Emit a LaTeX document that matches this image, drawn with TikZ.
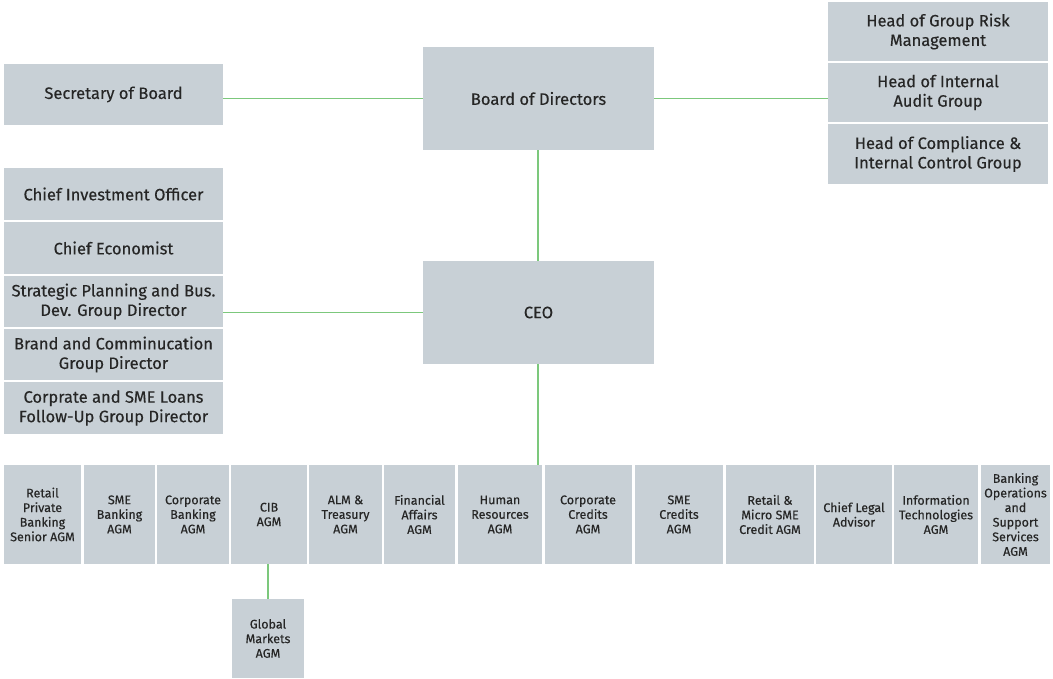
\documentclass[tikz,border=0pt]{standalone}
\usepackage{fontspec}
\setmainfont{Fira Sans}[FakeBold=0.35]
\definecolor{boxfill}{HTML}{C8D0D6}
\definecolor{linkgreen}{HTML}{7CC87C}
\definecolor{txt}{HTML}{262626}
\begin{document}
\begin{tikzpicture}[x=1pt,y=-1pt,
  box/.style={fill=boxfill, draw=none, inner sep=0pt, align=center, text=txt,
    font=\fontsize{16.5}{19.5}\selectfont},
  small/.style={box, font=\fontsize{12.5}{14.6}\selectfont},
  link/.style={draw=linkgreen, line width=1.3pt}]
\useasboundingbox (0,0) rectangle (1053,678);
% top level
\node[box, minimum width=219pt, minimum height=61pt] (sec) at (113.5,94.5) {Secretary of Board};
\node[box, minimum width=231pt, minimum height=103pt] (board) at (538.5,98.5) {Board of Directors};
\node[box, minimum width=220pt, minimum height=59pt] (risk) at (938,31.5) {Head of Group Risk\\Management};
\node[box, minimum width=220pt, minimum height=59pt] (audit) at (938,92.5) {Head of Internal\\Audit Group};
\node[box, minimum width=220pt, minimum height=60pt] (comp) at (938,154) {Head of Compliance \&\\Internal Control Group};
% CEO level
\node[box, minimum width=219pt, minimum height=52pt] (cio) at (113.5,194) {Chief Investment Officer};
\node[box, minimum width=219pt, minimum height=52pt] (econ) at (113.5,248) {Chief Economist};
\node[box, minimum width=219pt, minimum height=51pt] (strat) at (113.5,301.5) {Strategic Planning and Bus.\\Dev. Group Director};
\node[box, minimum width=219pt, minimum height=51pt] (brand) at (113.5,354.5) {Brand and Comminucation\\Group Director};
\node[box, minimum width=219pt, minimum height=52pt] (loans) at (113.5,408) {Corprate and SME Loans\\Follow-Up Group Director};
\node[box, minimum width=231pt, minimum height=103pt] (ceo) at (538.5,312.5) {CEO};
% bottom row
\node[small, minimum width=77pt, minimum height=99pt] (b1) at (42.5,514.5) {Retail\\Private\\Banking\\Senior AGM};
\node[small, minimum width=71pt, minimum height=99pt] (b2) at (119.5,514.5) {SME\\Banking\\AGM};
\node[small, minimum width=72pt, minimum height=99pt] (b3) at (193,514.5) {Corporate\\Banking\\AGM};
\node[small, minimum width=76pt, minimum height=99pt] (b4) at (269,514.5) {CIB\\AGM};
\node[small, minimum width=73pt, minimum height=99pt] (b5) at (345.5,514.5) {ALM \&\\Treasury\\AGM};
\node[small, minimum width=71pt, minimum height=99pt] (b6) at (419.5,514.5) {Financial\\Affairs\\AGM};
\node[small, minimum width=84pt, minimum height=99pt] (b7) at (500,514.5) {Human\\Resources\\AGM};
\node[small, minimum width=87pt, minimum height=99pt] (b8) at (588,514.5) {Corporate\\Credits\\AGM};
\node[small, minimum width=88pt, minimum height=99pt] (b9) at (679,514.5) {SME\\Credits\\AGM};
\node[small, minimum width=88pt, minimum height=99pt] (b10) at (770,514.5) {Retail \&\\Micro SME\\Credit AGM};
\node[small, minimum width=76pt, minimum height=99pt] (b11) at (854,514.5) {Chief Legal\\Advisor};
\node[small, minimum width=84pt, minimum height=99pt] (b12) at (936,514.5) {Information\\Technologies\\AGM};
\node[small, minimum width=69pt, minimum height=99pt] (b13) at (1015.5,514.5) {Banking\\Operations\\and\\Support\\Services\\AGM};
\node[small, minimum width=72pt, minimum height=79pt] (gm) at (268,638.5) {Global\\Markets\\AGM};
% connectors
\coordinate (ceofoot) at (538,465);
\draw[link] (board.west) -- (sec.east |- board.west);
\draw[link] (board.east) -- (audit.west |- board.east);
\draw[link] (board.south -| 538,0) -- (ceo.north -| 538,0);
\draw[link] (ceo.west) -- (strat.east |- ceo.west);
\draw[link] (ceo.south -| 538,0) -- (ceofoot);
\draw[link] (b4.south -| gm.north) -- (gm.north);
\end{tikzpicture}
\end{document}
